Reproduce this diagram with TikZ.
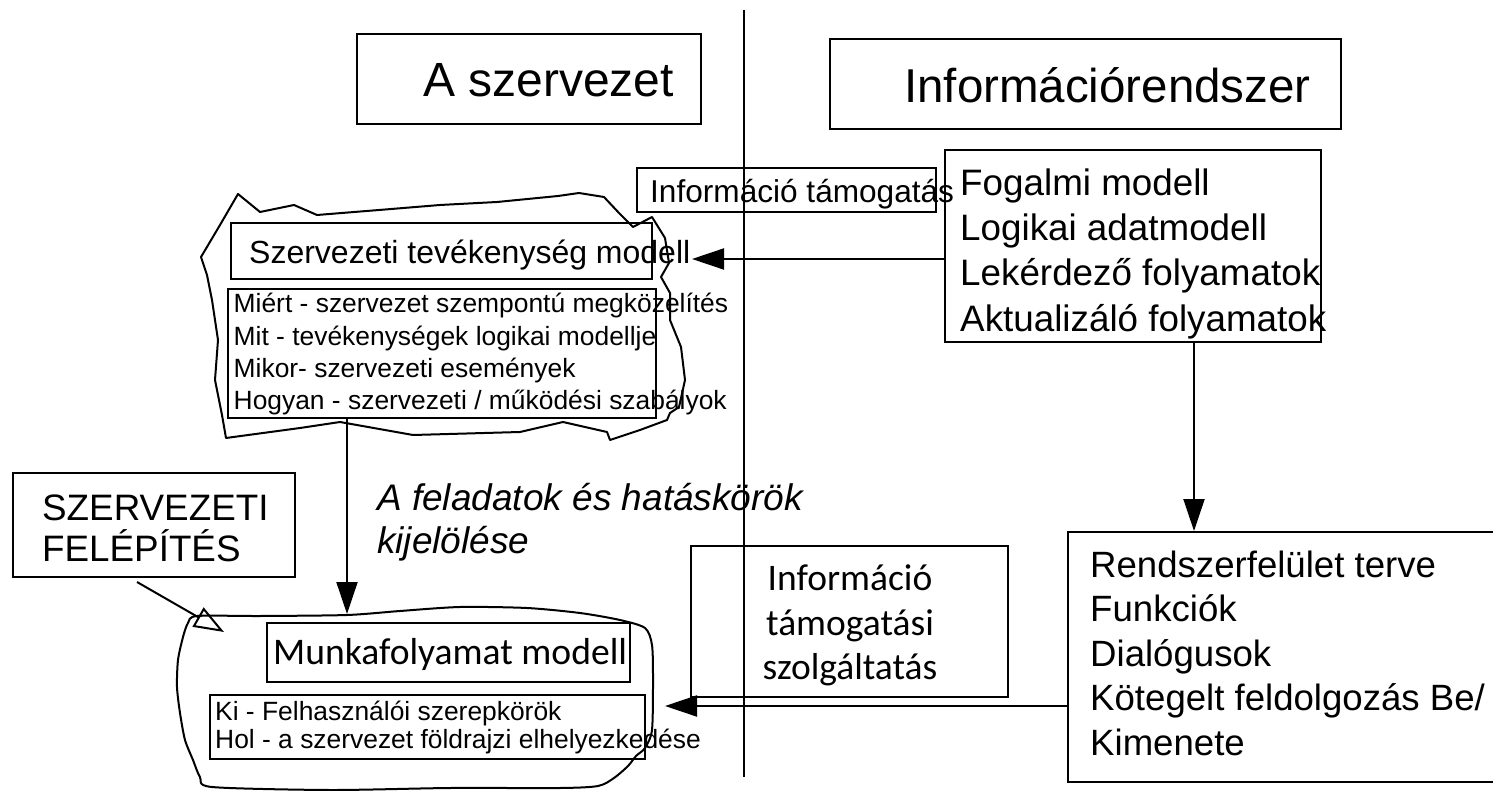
\documentclass[tikz,border=0pt]{standalone}
\usepackage{fontspec}
\setmainfont{Liberation Sans}
\newfontfamily\calibrifont{Carlito}
\usetikzlibrary{arrows.meta}
\newcommand\setpx[1]{\fontsize{#1}{#1}\selectfont}

\begin{document}
\begin{tikzpicture}[x=1pt,y=-1pt,
  boxwh/.style 2 args={draw, line width=2pt, inner sep=0pt,
    minimum width=#1pt, minimum height=#2pt},
  txt/.style={anchor=base west, inner sep=0pt},
  ctxt/.style={anchor=base, inner sep=0pt},
  conn/.style={line width=2pt, -{Triangle[length=32pt,width=21pt]}},
  pointer/.style={line width=2pt, -{Triangle[open,length=30pt,width=22pt]}},
  outline/.style={line width=2pt, line join=round},
]
\useasboundingbox (0,0) rectangle (1493,791);

% dividing line between the organisation and the information system
\draw[line width=2.5pt] (744,10) -- (744,777);

% headings
\node[boxwh={344}{90}] (szerv) at (529,79) {};
\node[txt, font=\setpx{48}] (szervt) at (423,97) {A szervezet};
\node[boxwh={511}{90}] (infor) at (1085,84) {};
\node[txt, font=\setpx{47.5}] (infort) at (904,103) {Információrendszer};

% conceptual / logical models
\node[boxwh={376}{192}] (fog) at (1133,246) {};
\foreach \t [count=\i] in {Fogalmi modell, Logikai adatmodell,
    Lekérdező folyamatok, Aktualizáló folyamatok}
  \node[txt, font=\setpx{36.8}] (fog\i) at (960,151+45*\i) {\t};

\node[boxwh={299}{44}] (itam) at (786.5,190) {};
\node[txt, font=\setpx{31.6}] (itamt) at (650,203) {Információ támogatás};

% organisational activity model (rough outline)
\draw[outline] (238,194) -- (260,212) -- (294,205) -- (317,215) -- (379,210)
  -- (440,205) -- (497,202) -- (558,196) -- (579,193) -- (604,197)
  -- (619,213) -- (633,227) -- (652,217) -- (665,238) -- (669,263)
  -- (661,277) -- (670,293) -- (670,320) -- (681,347) -- (685,380)
  -- (679,407) -- (670,413) -- (667,420) -- (640,430) -- (610,440)
  -- (607,432) -- (563,422) -- (520,432) -- (413,435) -- (340,422)
  -- (300,428) -- (226,438) -- (222,415) -- (215,380) -- (218,340)
  -- (212,300) -- (207,275) -- (201,257) -- (220,225) -- cycle;

\node[boxwh={421}{56}] (stm) at (441,251) {};
\node[txt, font=\setpx{32}] (stmt) at (249,264) {Szervezeti tevékenység modell};

\node[boxwh={428}{129}] (list1) at (442,353.5) {};
\foreach \t [count=\i] in {Miért - szervezet szempontú megközelítés,
    Mit - tevékenységek logikai modellje, Mikor- szervezeti események,
    Hogyan - szervezeti / működési szabályok}
  \node[txt, font=\setpx{26.4}] (list\i t) at (233.5,281+32*\i) {\t};

% work process model (rough outline)
\draw[outline] plot[smooth cycle, tension=0.45] coordinates {
  (197,616) (260,616) (347,615) (400,611) (460,607) (527,608) (580,613)
  (620,620) (645,628) (652,645) (653,680) (652,730) (645,748) (636,756)
  (628,766) (614,778) (598,786) (560,788) (450,788) (330,790) (212,787)
  (200,777) (193,760) (185,740) (180,713) (177,687) (178,660) (183,637)
  (188,623)};

\node[boxwh={363}{59}] (munka) at (448.5,652.5) {};
\node[txt, font=\calibrifont\setpx{37.6}] (munkat) at (273,664) {Munkafolyamat modell};

\node[boxwh={435}{64}] (kihol) at (427.5,727) {};
\node[txt, font=\setpx{26.4}] (ki) at (215,720) {Ki - Felhasználói szerepkörök};
\node[txt, font=\setpx{26.4}] (hol) at (215,748) {Hol - a szervezet földrajzi elhelyezkedése};

% organisational structure
\node[boxwh={282}{104}] (szf) at (154,525) {};
\node[txt, font=\setpx{36.8}] (szf1) at (42,520) {SZERVEZETI};
\node[txt, font=\setpx{36.8}] (szf2) at (42,561) {FELÉPÍTÉS};

% caption of the downward link
\node[txt, font=\itshape\setpx{37}] (feladat1) at (377,510) {A feladatok és hatáskörök};
\node[txt, font=\itshape\setpx{37}] (feladat2) at (377,553) {kijelölése};

% information support service
\node[boxwh={317}{151}] (itsz) at (849.5,621.5) {};
\foreach \t [count=\i] in {Információ, támogatási, szolgáltatás}
  \node[ctxt, font=\calibrifont\setpx{37.5}] (itsz\i) at (850,546+44.5*\i) {\t};

% system interface plan
\node[boxwh={442}{250}] (rbox) at (1289,657) {};
\foreach \t [count=\i] in {Rendszerfelület terve, Funkciók, Dialógusok,
    Kötegelt feldolgozás Be/, Kimenete}
  \node[txt, font=\setpx{36.6}] (rbox\i) at (1090,532.5+44.5*\i) {\t};

% connectors
\coordinate (a1) at (692,259);
\draw[conn] (fog.west |- a1) -- (a1);

\coordinate (a2) at (347,614);
\draw[conn] (a2 |- list1.south) -- (a2);

\coordinate (a3) at (1194,500);
\draw[conn] (fog.south -| a3) -- (rbox.north -| a3);

\coordinate (a4) at (665,706);
\draw[conn] (rbox.west |- a4) -- (a4);

\coordinate (p1) at (137,582);
\coordinate (p2) at (224,632);
\draw[pointer] (p1) -- (p2);

\end{tikzpicture}
\end{document}
